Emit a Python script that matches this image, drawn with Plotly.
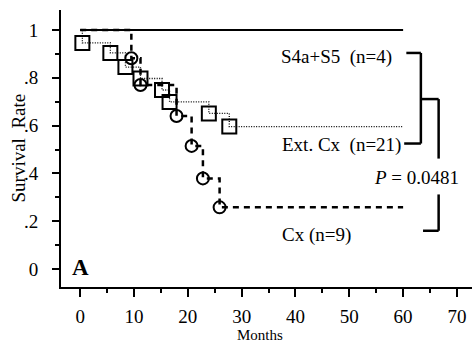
import plotly.graph_objects as go

# ---- data ----
s45_months = [0, 60]
s45_surv = [1.0, 1.0]

ext_months = [0, 0.4, 5.6, 8.4, 11.2, 15.2, 16.6, 23.9, 27.7, 60]
ext_surv = [1.0, 0.946, 0.904, 0.845, 0.797, 0.749, 0.699, 0.651, 0.596, 0.596]
ext_mark_months = [0.4, 5.6, 8.4, 11.2, 15.2, 16.6, 23.9, 27.7]
ext_mark_surv = [0.946, 0.904, 0.845, 0.797, 0.749, 0.699, 0.651, 0.596]

cx_months = [0, 9.5, 11.2, 17.9, 20.7, 22.8, 25.9, 60]
cx_surv = [1.0, 0.882, 0.770, 0.640, 0.515, 0.379, 0.258, 0.258]
cx_mark_months = [9.5, 11.2, 17.9, 20.7, 22.8, 25.9]
cx_mark_surv = [0.882, 0.770, 0.640, 0.515, 0.379, 0.258]

x_ticks = [0, 10, 20, 30, 40, 50, 60, 70]
y_ticks = [0, 0.2, 0.4, 0.6, 0.8, 1.0]
y_ticktext = ["0", ".2", ".4", ".6", ".8", "1"]

labels = ["S4a+S5\u00a0 (n=4)", "Ext. Cx\u00a0 (n=21)", "Cx (n=9)"]
p_text = "<i>P</i> = 0.0481"

FONT = "Liberation Serif, Times New Roman, serif"

fig = go.Figure()

fig.add_trace(go.Scatter(x=s45_months, y=s45_surv, mode="lines",
                         line=dict(color="black", width=2), hoverinfo="skip"))
fig.add_trace(go.Scatter(x=ext_months, y=ext_surv, mode="lines", line_shape="hv",
                         line=dict(color="black", width=1.3, dash="1px,1.5px"), hoverinfo="skip"))
fig.add_trace(go.Scatter(x=ext_mark_months, y=ext_mark_surv, mode="markers",
                         marker=dict(symbol="square-open", size=14, color="black",
                                     line=dict(width=2, color="black")), hoverinfo="skip"))
fig.add_trace(go.Scatter(x=cx_months, y=cx_surv, mode="lines", line_shape="hv",
                         line=dict(color="black", width=2.5, dash="6px,5px"), hoverinfo="skip"))
fig.add_trace(go.Scatter(x=cx_mark_months, y=cx_mark_surv, mode="markers",
                         marker=dict(symbol="circle-open", size=12, color="black",
                                     line=dict(width=2, color="black")), hoverinfo="skip"))

# brackets
bw = 2.5
def seg(x0, y0, x1, y1):
    fig.add_shape(type="line", x0=x0, y0=y0, x1=x1, y1=y1, xref="x", yref="y",
                  line=dict(color="black", width=bw))

seg(60.6, 0.904, 63.3, 0.904)
seg(63.3, 0.904, 63.3, 0.525)
seg(60.2, 0.525, 63.3, 0.525)
seg(63.3, 0.711, 66.6, 0.711)
seg(66.6, 0.711, 66.6, 0.462)
seg(66.6, 0.312, 66.6, 0.160)
seg(63.7, 0.160, 66.6, 0.160)

anns = [
    dict(x=47.6, y=0.887, text=labels[0]),
    dict(x=48.6, y=0.519, text=labels[1]),
    dict(x=43.9, y=0.142, text=labels[2]),
    dict(x=62.4, y=0.381, text=p_text),
]
for a in anns:
    fig.add_annotation(x=a["x"], y=a["y"], text=a["text"], showarrow=False,
                       xref="x", yref="y", xanchor="center", yanchor="middle",
                       font=dict(family=FONT, size=19, color="black"))

fig.add_annotation(x=0, y=0.005, text="<b>A</b>", showarrow=False, xref="x", yref="y",
                   xanchor="center", yanchor="middle",
                   font=dict(family=FONT, size=23, color="black"))

W, H = 472, 343
L, R, T, B = 61, 0, 10, 56
pw, ph = W - L - R, H - T - B

def px_x(v):
    return (v - L) / pw

def px_y(v):
    return (H - B - v) / ph

fig.add_annotation(x=px_x(18), y=px_y(148.5), text="Survival\u00a0 Rate", showarrow=False,
                   xref="paper", yref="paper", textangle=-90, xanchor="center", yanchor="middle",
                   font=dict(family=FONT, size=19, color="black"))
fig.add_annotation(x=px_x(260), y=px_y(344), text="Months", showarrow=False,
                   xref="paper", yref="paper", xanchor="center", yanchor="bottom",
                   borderpad=0, font=dict(family=FONT, size=15, color="black"))

fig.update_layout(
    width=W, height=H, margin=dict(l=L, r=R, t=T, b=B),
    plot_bgcolor="white", paper_bgcolor="white", showlegend=False,
    font=dict(family=FONT, size=19, color="black"),
)
fig.update_xaxes(range=[-3.57, 72.8], tickvals=x_ticks, showline=True, linecolor="black",
                 linewidth=2, ticks="outside", ticklen=8, tickwidth=2, tickcolor="black",
                 showgrid=False, zeroline=False, ticklabelstandoff=3,
                 minor=dict(dtick=5, tick0=0, ticks="outside", ticklen=4, tickwidth=2,
                            tickcolor="black", showgrid=False),
                 tickfont=dict(family=FONT, size=19, color="black"))
fig.update_yaxes(range=[-0.0753, 1.0837], tickvals=y_ticks, ticktext=y_ticktext,
                 showline=True, linecolor="black", linewidth=2, ticks="outside",
                 ticklen=7, tickwidth=2, tickcolor="black", showgrid=False, zeroline=False,
                 ticklabelstandoff=10,
                 minor=dict(dtick=0.1, tick0=0, ticks="outside", ticklen=4, tickwidth=2,
                            tickcolor="black", showgrid=False),
                 tickfont=dict(family=FONT, size=19, color="black"))

fig.write_html("out.html")
